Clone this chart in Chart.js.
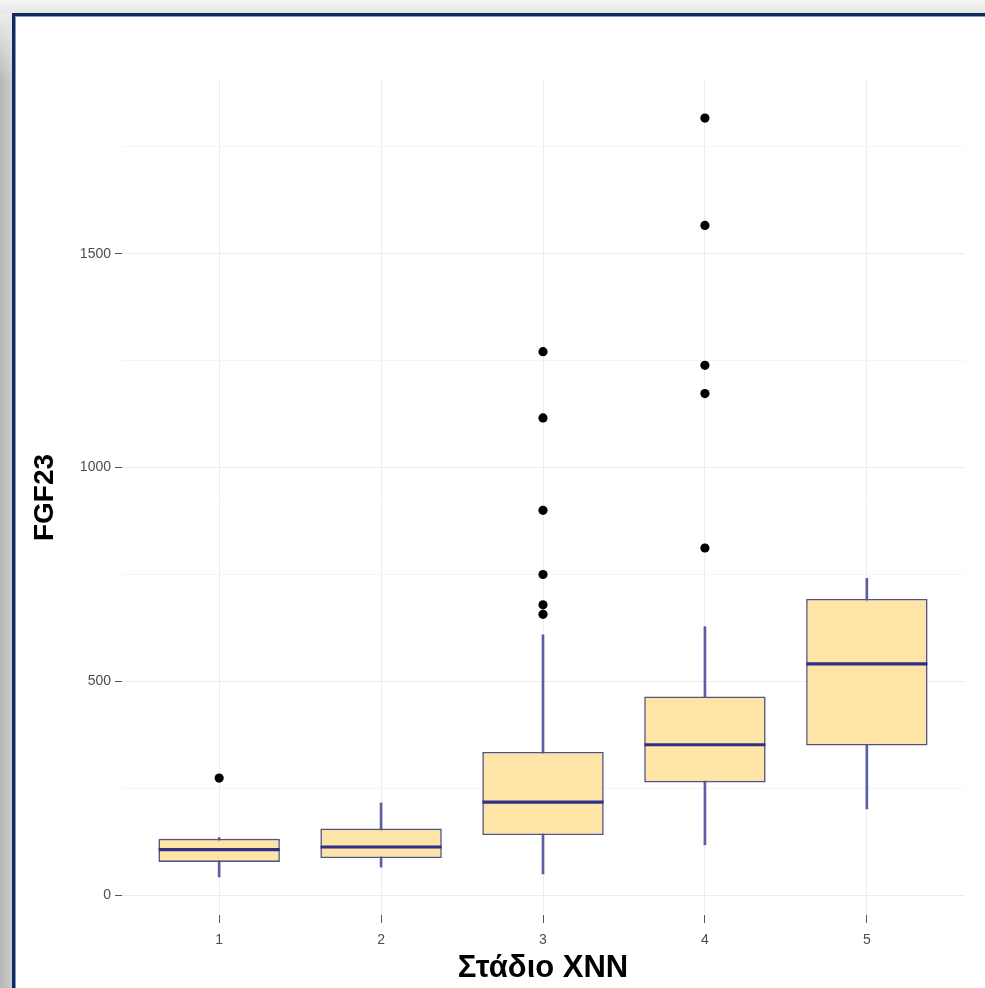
<!DOCTYPE html>
<html>
<head>
<meta charset="utf-8">
<script src="https://cdn.jsdelivr.net/npm/chart.js@4.4.1/dist/chart.umd.min.js"></script>
<style>
  html, body { margin: 0; padding: 0; }
  body {
    width: 985px; height: 988px; overflow: hidden; position: relative;
    background: linear-gradient(to bottom, #f4f4f4 0px, #e6e6e6 13px);
  }
  #shadowL {
    position: absolute; left: 0; top: 13px; width: 12px; bottom: 0;
    background: linear-gradient(to bottom, rgba(236,236,236,1) 0px, rgba(236,236,236,0) 70px),
                linear-gradient(to right, #b6b6b6, #cccccc);
  }
  #frame {
    position: absolute; left: 12px; top: 13px; right: -20px; bottom: -20px;
    background: #ffffff;
    border-top: 3px solid #0f2c5b; border-left: 3px solid #0f2c5b;
    box-shadow: inset 1px 1px 0 #7d98c4;
  }
  #wrap { position: absolute; left: 0; top: 0; width: 985px; height: 988px; }
</style>
</head>
<body>
<div id="shadowL"></div>
<div id="frame"></div>
<div id="wrap"><canvas id="grafico"></canvas></div>
<script>
// datos
const stages = ["1", "2", "3", "4", "5"];
const lowerWhisker = [43, 66, 50, 118, 202];
const q1 = [78, 87, 141, 264, 350];
const median = [107, 113, 218, 352, 541];
const q3 = [132, 156, 335, 465, 693];
const upperWhisker = [135, 216, 609, 628, 741];
const outliers = [
  [274],
  [],
  [1271, 1116, 900, 750, 679, 657],
  [1817, 1566, 1239, 1173, 812],
  []
];
const yLabels = [0, 500, 1000, 1500];
const yGrid = [0, 250, 500, 750, 1000, 1250, 1500, 1750];

const xTitle = "Στάδιο XNN";
const yTitle = "FGF23";

Chart.defaults.font.family = "'Liberation Sans', Arial, sans-serif";

const xs = stages.map(s => Number(s));

const grafico = new Chart(document.querySelector("#grafico"), {
  type: "bar",
  data: {
    datasets: [
      {
        // bigotes
        type: "bar",
        data: xs.map((x, i) => ({ x: x, y: [lowerWhisker[i], upperWhisker[i]] })),
        backgroundColor: "#5d5da2",
        borderWidth: 0,
        barThickness: 2,
        grouped: false,
        order: 4
      },
      {
        // cajas
        type: "bar",
        data: xs.map((x, i) => ({ x: x, y: [q1[i], q3[i]] })),
        backgroundColor: "#ffe4a7",
        borderColor: "#53537f",
        borderWidth: 1.6,
        borderSkipped: false,
        categoryPercentage: 1,
        barPercentage: 0.75,
        grouped: false,
        order: 3
      },
      {
        // medianas
        type: "line",
        data: xs.map((x, i) => ({ x: x, y: median[i] })),
        showLine: false,
        pointStyle: "line",
        pointRadius: 60.5,
        pointHoverRadius: 60.5,
        pointBorderWidth: 3.2,
        pointBorderColor: "#2f2f86",
        order: 2
      },
      {
        // valores atipicos
        type: "scatter",
        data: outliers.flatMap((arr, i) => arr.map(v => ({ x: xs[i], y: v }))),
        pointRadius: 4.6,
        pointBorderWidth: 0,
        pointBackgroundColor: "#000000",
        order: 1
      }
    ]
  },
  options: {
    responsive: true,
    maintainAspectRatio: false,
    animation: false,
    layout: { autoPadding: false, padding: { left: 0, top: 80, right: 21, bottom: 0 } },
    plugins: { legend: { display: false }, tooltip: { enabled: false } },
    scales: {
      x: {
        type: "linear",
        offset: false,
        min: 0.4,
        max: 5.6,
        afterBuildTicks: s => { s.ticks = xs.map(v => ({ value: v })); },
        afterFit: s => { s.height = 73; },
        grid: {
          offset: false,
          color: "#ececec",
          tickColor: "#555555",
          tickLength: 8,
          lineWidth: 1
        },
        border: { display: false },
        ticks: {
          padding: 9,
          color: "#4d4d4d",
          font: { size: 14 },
          callback: v => stages[v - 1]
        },
        title: {
          display: true,
          text: xTitle,
          color: "#000000",
          font: { size: 31, weight: "bold" },
          padding: { top: 0, bottom: 1 }
        }
      },
      y: {
        min: -46,
        max: 1906,
        afterBuildTicks: s => { s.ticks = yGrid.map(v => ({ value: v })); },
        afterFit: s => { s.width = 122; },
        grid: {
          color: c => (c.tick && c.tick.value % 500 === 0) ? "#ececec" : "#f5f5f5",
          tickColor: c => (c.tick && c.tick.value % 500 === 0) ? "#555555" : "rgba(0,0,0,0)",
          tickLength: 7
        },
        border: { display: false },
        ticks: {
          padding: 4,
          color: "#4d4d4d",
          font: { size: 14 },
          callback: v => yLabels.includes(v) ? String(v) : ""
        },
        title: {
          display: true,
          text: yTitle,
          color: "#000000",
          font: { size: 28, weight: "bold" },
          padding: { top: 28, bottom: 0 }
        }
      }
    }
  }
});
</script>
</body>
</html>
